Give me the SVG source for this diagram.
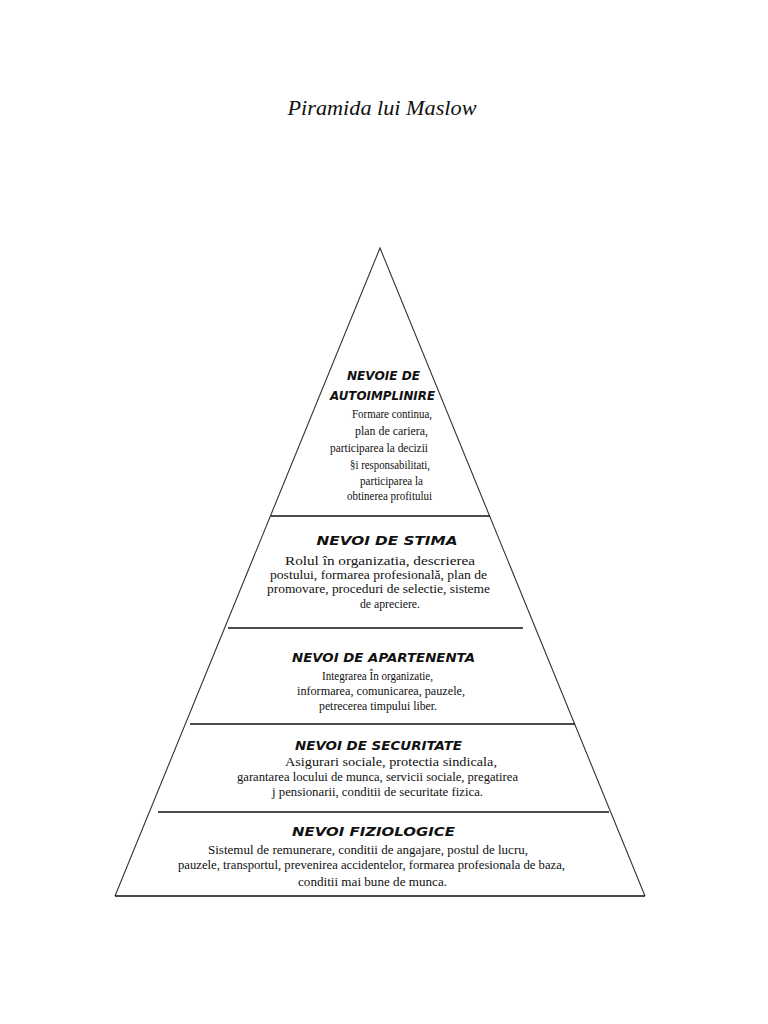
<svg xmlns="http://www.w3.org/2000/svg" width="768" height="1024" viewBox="0 0 768 1024">
<style>
.title{font-family:"Liberation Serif",serif;font-style:italic;font-size:21px;fill:#111}
.h{font-family:"DejaVu Sans","Liberation Sans",sans-serif;font-weight:bold;font-style:italic;font-size:11.5px;fill:#111}
.b{font-family:"Liberation Serif",serif;font-size:13.5px;fill:#111}
.edge{stroke:#333;stroke-width:1.1;fill:none}
.sep{stroke:#111;stroke-width:1.4;fill:none}
</style>
<rect width="768" height="1024" fill="#fff"/>
<text class="title" x="382" y="115" text-anchor="middle" textLength="189" lengthAdjust="spacingAndGlyphs">Piramida lui Maslow</text>
<g id="connectors">
<polyline class="edge" points="115,896 380,248 645,896"/>
<line class="sep" x1="115" y1="896" x2="645" y2="896"/>
<line class="sep" x1="271" y1="516" x2="490" y2="516"/>
<line class="sep" x1="228" y1="628" x2="523" y2="628"/>
<line class="sep" x1="190" y1="724" x2="575" y2="724"/>
<line class="sep" x1="158" y1="812" x2="609" y2="812"/>
</g>
<g id="autoimplinire">
<text class="h" x="383.5" y="380" text-anchor="middle" textLength="73" lengthAdjust="spacingAndGlyphs">NEVOIE DE</text>
<text class="h" x="382.5" y="400" text-anchor="middle" textLength="105" lengthAdjust="spacingAndGlyphs">AUTOIMPLINIRE</text>
<text class="b" x="392" y="418" text-anchor="middle" textLength="80" lengthAdjust="spacingAndGlyphs">Formare continua,</text>
<text class="b" x="391.5" y="435" text-anchor="middle" textLength="73" lengthAdjust="spacingAndGlyphs">plan de cariera,</text>
<text class="b" x="379" y="452" text-anchor="middle" textLength="98" lengthAdjust="spacingAndGlyphs">participarea la decizii</text>
<text class="b" x="390" y="469" text-anchor="middle" textLength="80" lengthAdjust="spacingAndGlyphs">§i responsabilitati,</text>
<text class="b" x="391.5" y="485" text-anchor="middle" textLength="63" lengthAdjust="spacingAndGlyphs">participarea la</text>
<text class="b" x="389.5" y="500" text-anchor="middle" textLength="85" lengthAdjust="spacingAndGlyphs">obtinerea profitului</text>
</g>
<g id="stima">
<text class="h" x="387" y="545" text-anchor="middle" textLength="141" lengthAdjust="spacingAndGlyphs">NEVOI DE STIMA</text>
<text class="b" x="380" y="565" text-anchor="middle" textLength="190" lengthAdjust="spacingAndGlyphs">Rolul în organizatia, descrierea</text>
<text class="b" x="378.5" y="579" text-anchor="middle" textLength="217" lengthAdjust="spacingAndGlyphs">postului, formarea profesională, plan de</text>
<text class="b" x="378.5" y="593" text-anchor="middle" textLength="223" lengthAdjust="spacingAndGlyphs">promovare, proceduri de selectie, sisteme</text>
<text class="b" x="390" y="608" text-anchor="middle" textLength="60" lengthAdjust="spacingAndGlyphs">de apreciere.</text>
</g>
<g id="apartenenta">
<text class="h" x="383.5" y="662" text-anchor="middle" textLength="183" lengthAdjust="spacingAndGlyphs">NEVOI DE APARTENENTA</text>
<text class="b" x="377.5" y="680" text-anchor="middle" textLength="111" lengthAdjust="spacingAndGlyphs">Integrarea În organizatie,</text>
<text class="b" x="381" y="695" text-anchor="middle" textLength="168" lengthAdjust="spacingAndGlyphs">informarea, comunicarea, pauzele,</text>
<text class="b" x="378" y="710" text-anchor="middle" textLength="118" lengthAdjust="spacingAndGlyphs">petrecerea timpului liber.</text>
</g>
<g id="securitate">
<text class="h" x="378.5" y="750" text-anchor="middle" textLength="167" lengthAdjust="spacingAndGlyphs">NEVOI DE SECURITATE</text>
<text class="b" x="391" y="766" text-anchor="middle" textLength="212" lengthAdjust="spacingAndGlyphs">Asigurari sociale, protectia sindicala,</text>
<text class="b" x="377.5" y="781" text-anchor="middle" textLength="281" lengthAdjust="spacingAndGlyphs">garantarea locului de munca, servicii sociale, pregatirea</text>
<text class="b" x="377.5" y="796" text-anchor="middle" textLength="211" lengthAdjust="spacingAndGlyphs">j pensionarii, conditii de securitate fizica.</text>
</g>
<g id="fiziologice">
<text class="h" x="373.5" y="836" text-anchor="middle" textLength="163" lengthAdjust="spacingAndGlyphs">NEVOI FIZIOLOGICE</text>
<text class="b" x="368" y="854" text-anchor="middle" textLength="320" lengthAdjust="spacingAndGlyphs">Sistemul de remunerare, conditii de angajare, postul de lucru,</text>
<text class="b" x="371.5" y="869" text-anchor="middle" textLength="387" lengthAdjust="spacingAndGlyphs">pauzele, transportul, prevenirea accidentelor, formarea profesionala de baza,</text>
<text class="b" x="372.5" y="886" text-anchor="middle" textLength="149" lengthAdjust="spacingAndGlyphs">conditii mai bune de munca.</text>
</g>
</svg>
